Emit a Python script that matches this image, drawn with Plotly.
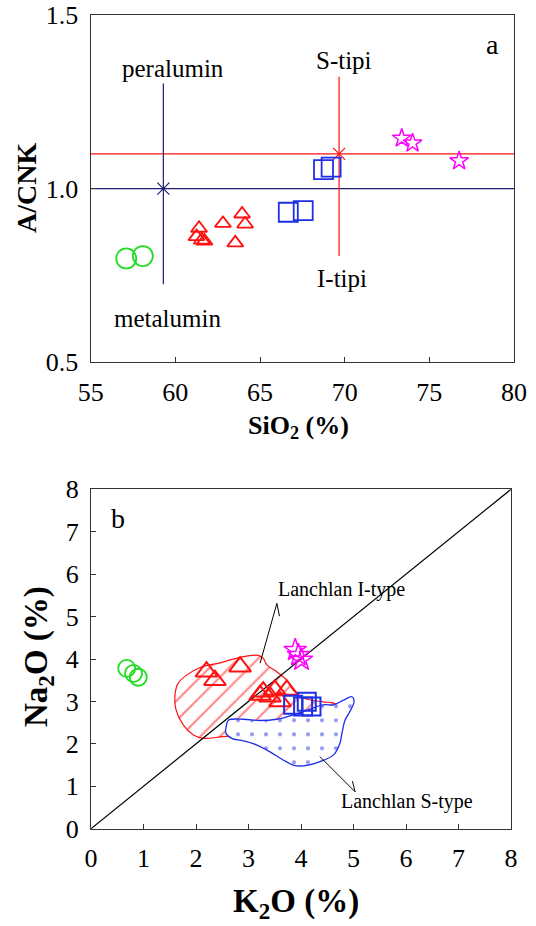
import plotly.graph_objects as go

FONT = "Liberation Serif, Times New Roman, serif"

# ---------------- Panel a : SiO2 vs A/CNK ----------------
green_sio2 = [57.10, 58.08]
green_acnk = [0.799, 0.806]
red_sio2 = [61.40, 61.25, 61.56, 61.72, 62.81, 63.94, 64.12, 63.54]
red_acnk = [0.886, 0.862, 0.852, 0.849, 0.900, 0.927, 0.898, 0.844]
blue_sio2 = [66.67, 67.55, 68.75, 69.20]
blue_acnk = [0.932, 0.937, 1.055, 1.062]
mag_sio2 = [73.37, 74.01, 76.76]
mag_acnk = [1.145, 1.131, 1.080]

acnk_limit = [1.0, 1.0]
stype_limit = [1.1, 1.1]
sio2_range = [55, 80]
peral_x = [59.29, 59.29]
peral_y = [0.725, 1.303]
stype_x = [69.67, 69.67]
stype_y = [0.806, 1.322]

# ---------------- Panel b : K2O vs Na2O ----------------
green_k2o = [0.68, 0.81, 0.90]
green_na2o = [3.78, 3.66, 3.57]
red_k2o = [2.20, 2.36, 2.84, 3.28, 3.22, 3.50, 3.73, 3.60, 3.41]
red_na2o = [3.70, 3.50, 3.82, 3.23, 3.15, 3.27, 3.27, 3.00, 3.11]
blue_k2o = [3.85, 4.04, 4.11, 4.20]
blue_na2o = [2.92, 2.88, 2.99, 2.88]
mag_k2o = [3.89, 3.95, 4.01]
mag_na2o = [4.21, 4.09, 3.98]

diag = [0, 8]

itype_k2o = [1.60, 1.66, 1.82, 2.08, 2.46, 2.84, 3.16, 3.28, 3.35, 3.54, 3.73, 3.85,
             4.05, 4.42, 4.62, 4.75, 4.30, 3.50, 2.90, 2.52, 2.14, 1.95, 1.76, 1.62, 1.60]
itype_na2o = [3.15, 3.43, 3.62, 3.80, 3.91, 4.04, 4.09, 4.02, 3.86, 3.70, 3.50, 3.27,
              3.08, 2.99, 2.96, 2.85, 2.55, 2.30, 2.20, 2.17, 2.13, 2.21, 2.44, 2.80, 3.15]
stype_k2o = [2.62, 2.90, 3.22, 3.54, 3.79, 4.04, 4.42, 4.62, 4.81, 4.97, 5.01, 4.93, 4.84,
             4.78, 4.74, 4.62, 4.36, 4.04, 3.85, 3.66, 3.41, 3.16, 2.90, 2.68, 2.57, 2.58, 2.62]
stype_na2o = [2.56, 2.58, 2.55, 2.58, 2.66, 2.76, 2.92, 2.92, 3.03, 3.11, 2.99, 2.76, 2.56,
              2.25, 2.01, 1.74, 1.58, 1.48, 1.50, 1.62, 1.81, 1.97, 2.07, 2.13, 2.25, 2.44, 2.56]
iptr_k2o = [3.22, 3.54, 3.59]
iptr_na2o = [3.90, 5.31, 5.01]
sptr_k2o = [4.36, 5.03, 4.98]
sptr_na2o = [1.70, 0.87, 1.12]

RED = "#ff1010"
BLUE = "#1f2fe6"
GREEN = "#22dd22"
MAG = "#ff00ff"
NAVY = "#1e1e6e"

fig = go.Figure()

# ---- panel a traces
fig.add_trace(go.Scatter(x=sio2_range, y=stype_limit, mode="lines",
                         line=dict(color=RED, width=1.2), xaxis="x", yaxis="y"))
fig.add_trace(go.Scatter(x=sio2_range, y=acnk_limit, mode="lines",
                         line=dict(color=NAVY, width=1.2), xaxis="x", yaxis="y"))
fig.add_trace(go.Scatter(x=peral_x, y=peral_y, mode="lines",
                         line=dict(color=NAVY, width=1.2), xaxis="x", yaxis="y"))
fig.add_trace(go.Scatter(x=stype_x, y=stype_y, mode="lines",
                         line=dict(color=RED, width=1.2), xaxis="x", yaxis="y"))
fig.add_trace(go.Scatter(x=[peral_x[0]], y=[acnk_limit[0]], mode="markers",
                         marker=dict(symbol="x-thin-open", size=12, color=NAVY,
                                     line=dict(width=1.2, color=NAVY)), xaxis="x", yaxis="y"))
fig.add_trace(go.Scatter(x=[stype_x[0]], y=[stype_limit[0]], mode="markers",
                         marker=dict(symbol="x-thin-open", size=12, color=RED,
                                     line=dict(width=1.2, color=RED)), xaxis="x", yaxis="y"))

def pts(x, y, sym, size, color, ax, ay, lw=1.8):
    fig.add_trace(go.Scatter(x=x, y=y, mode="markers", xaxis=ax, yaxis=ay,
                             marker=dict(symbol=sym, size=size, color=color,
                                         line=dict(width=lw, color=color))))

pts(green_sio2, green_acnk, "circle-open", 20, GREEN, "x", "y")
pts(red_sio2, red_acnk, "triangle-up-open", 14, RED, "x", "y")
pts(blue_sio2, blue_acnk, "square-open", 19, BLUE, "x", "y")
pts(mag_sio2, mag_acnk, "star-open", 14, MAG, "x", "y", lw=1.5)

# ---- panel b traces
fig.add_trace(go.Scatter(x=itype_k2o, y=itype_na2o, mode="lines", fill="toself",
                         fillcolor="rgba(0,0,0,0)",
                         fillpattern=dict(shape="/", fgcolor=RED, bgcolor="rgba(0,0,0,0)",
                                          size=14, solidity=0.15),
                         line=dict(color=RED, width=1.2, shape="spline", smoothing=1.0),
                         xaxis="x2", yaxis="y2"))
fig.add_trace(go.Scatter(x=stype_k2o, y=stype_na2o, mode="lines", fill="toself",
                         fillcolor="white",
                         fillpattern=dict(shape=".", fgcolor=BLUE, bgcolor="white",
                                          size=14, solidity=0.07),
                         line=dict(color=BLUE, width=1.3, shape="spline", smoothing=1.0),
                         xaxis="x2", yaxis="y2"))
fig.add_trace(go.Scatter(x=diag, y=diag, mode="lines", line=dict(color="black", width=1.2),
                         xaxis="x2", yaxis="y2"))
fig.add_trace(go.Scatter(x=iptr_k2o, y=iptr_na2o, mode="lines", line=dict(color="black", width=1),
                         xaxis="x2", yaxis="y2"))
fig.add_trace(go.Scatter(x=sptr_k2o, y=sptr_na2o, mode="lines", line=dict(color="black", width=1),
                         xaxis="x2", yaxis="y2"))

pts(green_k2o, green_na2o, "circle-open", 17, GREEN, "x2", "y2")
pts(red_k2o, red_na2o, "triangle-up-open", 19, RED, "x2", "y2", lw=2)
pts(blue_k2o, blue_na2o, "square-open", 18, BLUE, "x2", "y2", lw=2)
pts(mag_k2o, mag_na2o, "star-open", 17, MAG, "x2", "y2", lw=1.5)

W, H = 536, 926
axcommon = dict(showgrid=False, zeroline=False, showline=True, mirror=True,
                linecolor="#333333", linewidth=1.3, ticks="inside", ticklen=5,
                tickcolor="#333333", tickfont=dict(family=FONT, size=26, color="black"))

fig.update_layout(
    width=W, height=H, showlegend=False,
    margin=dict(l=0, r=0, t=0, b=0, autoexpand=False),
    paper_bgcolor="white", plot_bgcolor="white",
    xaxis=dict(domain=[90.7 / W, 514 / W], range=[55, 80], tickvals=[55, 60, 65, 70, 75, 80],
               anchor="y", ticklabelstandoff=6, **axcommon),
    yaxis=dict(domain=[1 - 362.3 / H, 1 - 15 / H], range=[0.5, 1.5], tickvals=[0.5, 1.0, 1.5],
               tickformat=".1f", anchor="x", ticklabelstandoff=6, **axcommon),
    xaxis2=dict(domain=[91 / W, 511 / W], range=[0, 8], tickvals=list(range(9)),
                anchor="y2", ticklabelstandoff=6, **axcommon),
    yaxis2=dict(domain=[1 - 828.7 / H, 1 - 489.3 / H], range=[0, 8], tickvals=list(range(9)),
                anchor="x2", ticklabelstandoff=6, **axcommon),
)

def txt(x, y, s, size, xref="x", yref="y", angle=0, bold=False):
    fig.add_annotation(x=x, y=y, xref=xref, yref=yref, text=("<b>%s</b>" % s) if bold else s,
                       showarrow=False, xanchor="center", yanchor="middle", textangle=angle,
                       font=dict(family=FONT, size=size, color="black"))

txt(59.88, 1.347, "peralumin", 25)
txt(69.94, 1.370, "S-tipi", 25)
txt(78.72, 1.414, "a", 28)
txt(69.84, 0.742, "I-tipi", 25)
txt(59.54, 0.627, "metalumin", 25)
txt(298 / W, 1 - 427 / H, "SiO<sub>2</sub> (%)", 26, "paper", "paper", bold=True)
txt(27 / W, 1 - 188 / H, "A/CNK", 28, "paper", "paper", angle=-90, bold=True)

txt(0.51, 7.31, "b", 28, "x2", "y2")
txt(4.78, 5.63, "Lanchlan I-type", 20, "x2", "y2")
txt(6.01, 0.64, "Lanchlan S-type", 20, "x2", "y2")
txt(38 / W, 1 - 657 / H, "Na<sub>2</sub>O (%)", 33, "paper", "paper", angle=-90, bold=True)
txt(296 / W, 1 - 903 / H, "K<sub>2</sub>O (%)", 33, "paper", "paper", bold=True)

fig.write_html("out.html")
